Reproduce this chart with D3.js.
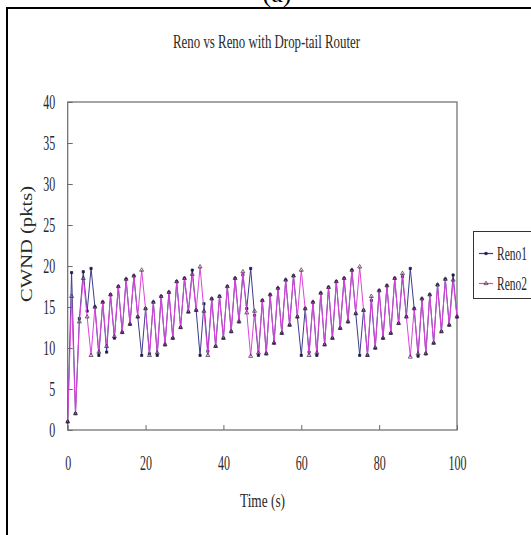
<!DOCTYPE html>
<html>
<head>
<meta charset="utf-8">
<script src="https://cdn.jsdelivr.net/npm/d3@7"></script>
<style>
  html, body { margin: 0; padding: 0; background: #fff; }
  svg { display: block; }
</style>
</head>
<body>
<svg id="chart" width="531" height="535"></svg>
<script>
// ---- data -------------------------------------------------------------
const panelLabel = "(a)";
const chartTitle = "Reno vs Reno with Drop-tail Router";
const xTitle = "Time (s)";
const yTitle = "CWND (pkts)";
const seriesNames = ["Reno1", "Reno2"];

// sample times, one per second
const timeSec = d3.range(0, 101);

// congestion window of each flow (packets)
const reno1 = [
  1, 19.2, 2, 13.6, 19.3, 14.5, 19.7, 15.0, 9.1, 15.6,
  9.5, 16.5, 11.2, 17.5, 11.9, 18.4, 12.9, 18.8, 13.8, 9.1,
  14.8, 9.3, 15.6, 9.1, 16.3, 10.4, 16.8, 11.2, 18.1, 12.5,
  18.5, 14.4, 19.5, 14.6, 9.1, 15.4, 9.6, 16.0, 10.2, 16.3,
  11.2, 17.5, 12.0, 18.5, 13.2, 18.9, 14.8, 19.7, 14.0, 9.1,
  15.8, 9.3, 16.5, 10.6, 17.3, 11.8, 18.3, 12.8, 18.8, 13.8,
  9.1, 14.8, 9.5, 15.6, 9.1, 16.7, 10.4, 17.4, 11.2, 18.1,
  12.4, 18.5, 13.2, 19.5, 14.2, 9.1, 14.6, 9.1, 15.8, 10.0,
  17.0, 11.2, 17.6, 11.8, 18.5, 13.0, 18.7, 13.8, 19.7, 14.8,
  9.0, 16.0, 9.3, 16.5, 10.6, 17.7, 12.0, 18.4, 12.8, 18.9,
  13.8
];
const reno2 = [
  1, 16.3, 2, 13.2, 18.5, 13.8, 9.1, 15.0, 9.5, 15.6,
  10.2, 16.5, 11.4, 17.5, 11.9, 18.4, 12.9, 18.8, 13.8, 19.5,
  14.8, 9.1, 15.6, 9.4, 16.3, 10.4, 16.8, 11.2, 18.1, 12.5,
  18.5, 14.4, 19.0, 14.6, 19.9, 14.5, 9.1, 16.0, 10.2, 16.3,
  11.2, 17.5, 12.0, 18.5, 13.2, 19.3, 14.3, 9.0, 14.5, 9.4,
  15.8, 9.3, 16.5, 10.6, 17.3, 11.8, 18.3, 12.8, 18.8, 13.8,
  19.5, 14.8, 9.1, 15.6, 9.4, 16.7, 10.4, 17.4, 11.2, 18.1,
  12.4, 18.5, 13.2, 19.5, 14.2, 19.9, 14.6, 9.1, 16.3, 10.0,
  17.0, 11.2, 17.6, 11.8, 18.5, 13.0, 19.1, 13.8, 8.9, 14.8,
  9.3, 16.0, 9.3, 16.5, 10.6, 17.7, 12.0, 18.4, 12.8, 18.3,
  13.8
];

const xTicks = [0, 20, 40, 60, 80, 100];
const yTicks = [0, 5, 10, 15, 20, 25, 30, 35, 40];

// ---- layout -----------------------------------------------------------
const svg = d3.select("#chart");
const serif = "'Liberation Serif', 'Times New Roman', serif";
const plot = { left: 67.7, right: 457, top: 102, bottom: 430 };
const squeeze = 0.6;   // narrow glyph width used by the tick labels

const x = d3.scaleLinear().domain([0, 100]).range([plot.left, plot.right]);
const y = d3.scaleLinear().domain([0, 40]).range([plot.bottom, plot.top]);

svg.append("rect").attr("width", 531).attr("height", 535).attr("fill", "#fff");

// outer frame of the figure panel
svg.append("rect")
  .attr("x", 7).attr("y", 8).attr("width", 560).attr("height", 560)
  .attr("fill", "none").attr("stroke", "#000").attr("stroke-width", 2);

// panel label (sits above the frame)
svg.append("text")
  .attr("x", 277).attr("y", 2)
  .attr("text-anchor", "middle")
  .attr("font-family", serif).attr("font-size", 26)
  .attr("fill", "#000")
  .text(panelLabel);

// title
svg.append("text")
  .attr("x", 266.5).attr("y", 48)
  .attr("text-anchor", "middle")
  .attr("font-family", serif).attr("font-size", 19)
  .attr("textLength", 187).attr("lengthAdjust", "spacingAndGlyphs")
  .attr("fill", "#2a2a2a")
  .text(chartTitle);

// plot frame
svg.append("rect")
  .attr("x", plot.left).attr("y", plot.top)
  .attr("width", plot.right - plot.left).attr("height", plot.bottom - plot.top)
  .attr("fill", "none").attr("stroke", "#6a6a6a").attr("stroke-width", 1.2);

// axes with inward ticks
const xAxis = svg.append("g")
  .attr("transform", `translate(0,${plot.bottom})`)
  .call(d3.axisBottom(x).tickValues(xTicks).tickSize(-5).tickPadding(40).tickFormat(d3.format("d")));
const yAxis = svg.append("g")
  .attr("transform", `translate(${plot.left},0)`)
  .call(d3.axisLeft(y).tickValues(yTicks).tickSize(-5).tickPadding(12.5).tickFormat(d3.format("d")));

[xAxis, yAxis].forEach(g => {
  g.select(".domain").remove();
  g.selectAll(".tick line").attr("stroke", "#6a6a6a");
  g.selectAll(".tick text")
    .attr("font-family", serif).attr("font-size", 20).attr("fill", "#2a2a2a");
});
xAxis.selectAll(".tick text")
  .attr("y", 40).attr("dy", 0)
  .attr("transform", `scale(${squeeze},1)`);
yAxis.selectAll(".tick text")
  .attr("x", -12.5 / squeeze)
  .attr("transform", `scale(${squeeze},1)`);

// axis titles
svg.append("text")
  .attr("x", 262.5).attr("y", 507)
  .attr("text-anchor", "middle")
  .attr("font-family", serif).attr("font-size", 18)
  .attr("textLength", 45).attr("lengthAdjust", "spacingAndGlyphs")
  .attr("fill", "#2a2a2a")
  .text(xTitle);
svg.append("text")
  .attr("transform", "translate(32,244) rotate(-90)")
  .attr("text-anchor", "middle")
  .attr("font-family", serif).attr("font-size", 17)
  .attr("textLength", 116).attr("lengthAdjust", "spacingAndGlyphs")
  .attr("fill", "#2a2a2a")
  .text(yTitle);

// ---- series -----------------------------------------------------------
const styles = [
  { name: seriesNames[0], values: reno1, line: "#3c3c8c", mark: "#1a1a50", symbol: d3.symbolSquare, size: 5, fill: "#1a1a50" },
  { name: seriesNames[1], values: reno2, line: "#dd44dd", mark: "#3a2a3a", symbol: d3.symbolTriangle, size: 7, fill: "none" }
];

const line = d3.line().x(d => x(d.t)).y(d => y(d.v));

styles.forEach(s => {
  const pts = timeSec.map((t, i) => ({ t, v: s.values[i] }));
  svg.append("path")
    .datum(pts)
    .attr("d", line)
    .attr("fill", "none")
    .attr("stroke", s.line)
    .attr("stroke-width", 1);
  svg.append("g").selectAll("path")
    .data(pts)
    .join("path")
    .attr("transform", d => `translate(${x(d.t)},${y(d.v)})`)
    .attr("d", d3.symbol(s.symbol, s.size))
    .attr("fill", s.fill)
    .attr("stroke", s.mark)
    .attr("stroke-width", 0.7);
});

// ---- legend -----------------------------------------------------------
const legend = svg.append("g");
legend.append("rect")
  .attr("x", 473.5).attr("y", 231.5).attr("width", 80).attr("height", 67)
  .attr("fill", "#fff").attr("stroke", "#333").attr("stroke-width", 1);

styles.forEach((s, i) => {
  const ly = 253.5 + i * 30;
  legend.append("line")
    .attr("x1", 479).attr("x2", 493).attr("y1", ly).attr("y2", ly)
    .attr("stroke", s.line).attr("stroke-width", 1.2);
  legend.append("path")
    .attr("transform", `translate(486,${ly})`)
    .attr("d", d3.symbol(s.symbol, s.size))
    .attr("fill", s.fill).attr("stroke", s.mark).attr("stroke-width", 0.7);
  legend.append("text")
    .attr("x", 497).attr("y", ly + 6.5)
    .attr("font-family", serif).attr("font-size", 19)
    .attr("textLength", 30).attr("lengthAdjust", "spacingAndGlyphs")
    .attr("fill", "#2a2a2a")
    .text(s.name);
});
</script>
</body>
</html>
